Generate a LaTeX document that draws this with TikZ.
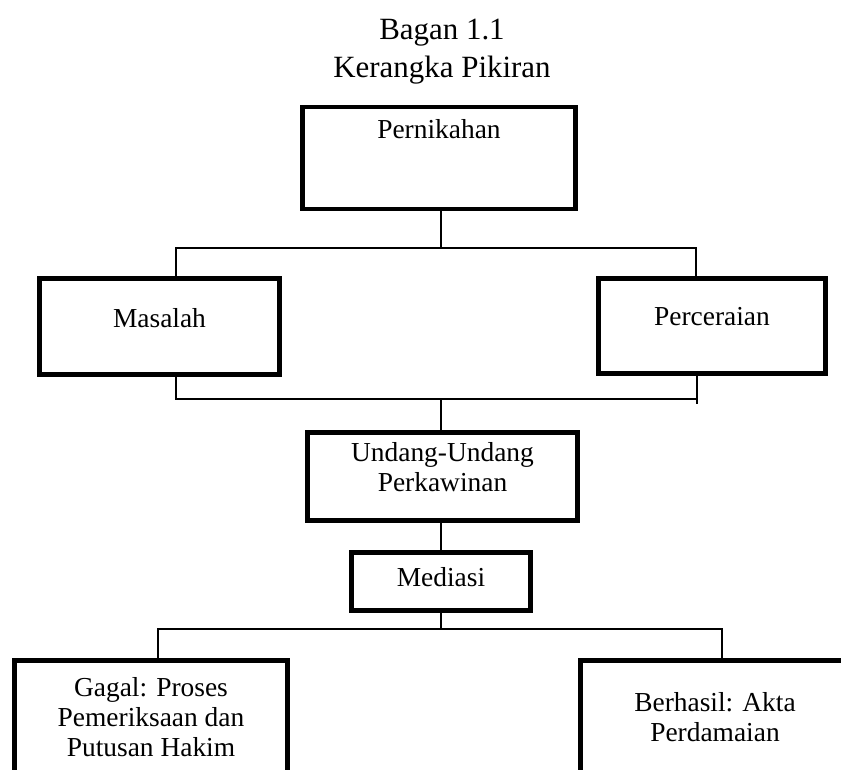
\documentclass[tikz,border=0pt]{standalone}
\usepackage{fontspec}
\setmainfont{Liberation Serif}
\usepackage{tikz}

\begin{document}
\begin{tikzpicture}[x = 0.025cm, y = -0.025cm,
        kotak/.style = {draw, line width = 3.4pt, inner sep = 0pt, align = center,
            font = \fontsize{19.5}{21.5}\selectfont},
        garis/.style = {line width = 1.1pt}]
            \useasboundingbox (0,0) rectangle (841,769);

            \node [align = center, text height = 16pt, text depth = 0pt,
            font = \fontsize{22}{26.7}\selectfont] (judul) at (442, 66)
            {Bagan 1.1\\Kerangka Pikiran};

            \node [kotak, minimum width = 6.825cm, minimum height = 2.55cm,
            text height = 14pt, text depth = 42pt] (pernikahan) at (439, 158) {Pernikahan};
            \node [kotak, minimum width = 6cm, minimum height = 2.4cm,
            text height = 14pt, text depth = 11.9pt] (masalah) at (159.5, 326.5) {Masalah};
            \node [kotak, minimum width = 5.675cm, minimum height = 2.375cm,
            text height = 14pt, text depth = 15.4pt] (perceraian) at (712, 326) {Perceraian};
            \node [kotak, minimum width = 6.75cm, minimum height = 2.2cm,
            text height = 22pt, text depth = 0pt] (undang) at (442.5, 476.5)
            {Undang-Undang\\Perkawinan};
            \node [kotak, minimum width = 4.475cm, minimum height = 1.45cm,
            text height = 14pt, text depth = 6.2pt] (mediasi) at (441, 581.5) {Mediasi};
            \node [kotak, minimum width = 6.825cm, minimum height = 3.5cm,
            text height = 37.6pt, text depth = 0pt] (gagal) at (151, 730.5)
            {Gagal: Proses\\Pemeriksaan dan\\Putusan Hakim};
            \node [kotak, minimum width = 6.725cm, minimum height = 3.5cm,
            text height = 16.3pt, text depth = 0pt] (berhasil) at (715, 730.5)
            {Berhasil: Akta\\Perdamaian};

            % percabangan atas
            \coordinate (atasTengah) at (441, 248);
            \coordinate (atasKiri) at (176, 248);
            \coordinate (atasKanan) at (696, 248);
            \draw [garis] (pernikahan.south -| atasTengah) -- (atasTengah);
            \draw [garis] (masalah.north -| atasKiri) -- (atasKiri) -- (atasKanan)
            -- (perceraian.north -| atasKanan);

            % pertemuan tengah
            \coordinate (tengah) at (441, 399);
            \coordinate (tengahKiri) at (176, 399);
            \coordinate (tengahKanan) at (697, 399);
            \coordinate (ujungKanan) at (697, 404);
            \draw [garis] (masalah.south -| tengahKiri) -- (tengahKiri) -- (tengahKanan);
            \draw [garis] (perceraian.south -| ujungKanan) -- (ujungKanan);
            \draw [garis] (tengah) -- (undang.north -| tengah);
            \draw [garis] (undang.south -| tengah) -- (mediasi.north -| tengah);

            % percabangan bawah
            \coordinate (bawahTengah) at (441, 629);
            \coordinate (bawahKiri) at (158, 629);
            \coordinate (bawahKanan) at (722, 629);
            \draw [garis] (mediasi.south -| bawahTengah) -- (bawahTengah);
            \draw [garis] (gagal.north -| bawahKiri) -- (bawahKiri) -- (bawahKanan)
            -- (berhasil.north -| bawahKanan);
        \end{tikzpicture}
\end{document}
